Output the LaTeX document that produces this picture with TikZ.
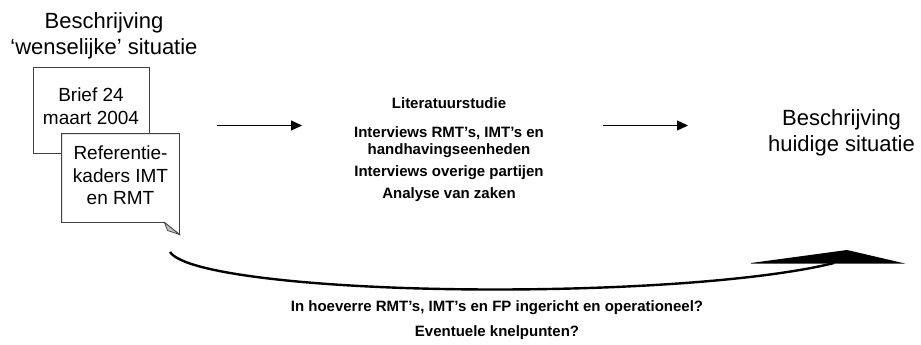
\documentclass[tikz,border=0pt]{standalone}
\usepackage{fontspec}
\setmainfont{Liberation Sans}
\usetikzlibrary{arrows.meta}

\begin{document}
\begin{tikzpicture}[x=1pt, y=-1pt,
  heading/.style={font=\fontsize{22}{25.5}\selectfont, align=center, inner sep=0pt},
  docbox/.style={draw=black!75, line width=0.9pt, fill=white, align=center, inner sep=0pt,
                 font=\fontsize{19}{23}\selectfont},
  method/.style={font=\fontsize{15}{17}\selectfont\bfseries, align=center, inner sep=0pt},
  flow/.style={-{Triangle[length=11pt,width=10pt]}, line width=1.3pt},
]
\fill[white] (0,0) rectangle (921,345);
\useasboundingbox (0,0) rectangle (921,345);

% starting point: desired situation
\node[heading] (wens) at (104,35.8) {Beschrijving\\‘wenselijke’ situatie};

\node[docbox, minimum width=116, minimum height=86, text depth=7pt] (brief) at (91,110)
  {Brief 24\\maart 2004};

% second document, with a folded lower right corner
\node[docbox, draw=none, minimum width=117, minimum height=88,
      font=\fontsize{19}{22.5}\selectfont, text depth=5pt] (kader) at (120.5,178)
  {Referentie-\\kaders IMT\\en RMT};
\coordinate (foldA) at ([yshift=-12pt]kader.south east);
\coordinate (foldB) at ([xshift=-15pt]kader.south east);
\draw[black!75, line width=0.9pt] (kader.south west) -- (kader.north west) -- (kader.north east)
  -- (foldA) -- (foldB) -- cycle;
\filldraw[fill=black!25, draw=black!75, line width=0.7pt]
  (foldA) -- (foldB) -- ([xshift=3pt,yshift=-8pt]foldB) -- cycle;

% methods
\node[method, anchor=base] (lit) at (449,108) {Literatuurstudie};
\node[method, anchor=base] (intv) at (449,137) {Interviews RMT’s, IMT’s en};
\node[method, anchor=base] (intv2) at (449,154.5) {handhavingseenheden};
\node[method, anchor=base] (overig) at (449,176.5) {Interviews overige partijen};
\node[method, anchor=base] (zaken) at (449,198.5) {Analyse van zaken};

% result: current situation
\node[heading] (huidig) at (841.5,132.8) {Beschrijving\\huidige situatie};

% straight flow arrows
\coordinate (a1s) at (217,125.5);
\coordinate (a1e) at (302,125.5);
\coordinate (a2s) at (603,125.5);
\coordinate (a2e) at (688,125.5);
\draw[flow] (a1s) -- (a1e);
\draw[flow] (a2s) -- (a2e);

% curved return arrow underneath
\coordinate (cs) at (170,252);
\coordinate (cm) at (495,289.5);
\coordinate (ce) at (834,263);
\draw[line width=2.4pt] (cs) .. controls (185,275) and (330,289.5) .. (cm)
  .. controls (640,289.5) and (770,279) .. (ce);
\fill (751,263) -- (847,250) -- (905,263.5) -- (751,263.5) -- cycle;

% questions
\node[method, anchor=base] (vraag1) at (497,311) {In hoeverre RMT’s, IMT’s en FP ingericht en operationeel?};
\node[method, anchor=base] (vraag2) at (497,336) {Eventuele knelpunten?};
\end{tikzpicture}
\end{document}
